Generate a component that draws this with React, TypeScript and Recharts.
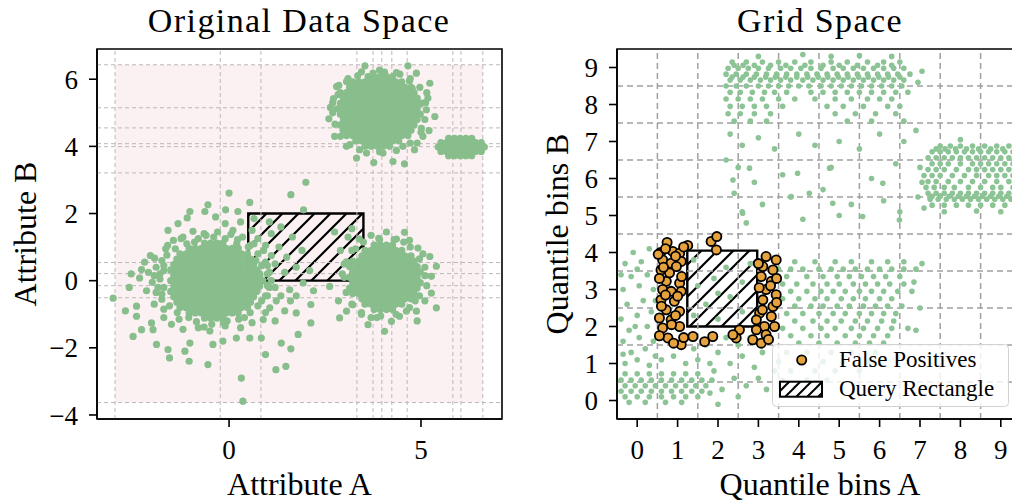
import { ReferenceArea, ReferenceLine, Scatter, ScatterChart, XAxis, YAxis } from 'recharts';

const FONT = '"Liberation Serif", "Times New Roman", serif';

type Pt = [number, number];
type Row = [number, number[]]; // [y, list of x]

const fromRows = (rows: Row[]): Pt[] => rows.flatMap(([y, xs]) => xs.map((x) => [x, y] as Pt));
const toXY = (pts: Pt[]) => pts.map(([x, y]) => ({ x, y }));
const minus = (v: number) => (v < 0 ? `\u2212${Math.abs(v)}` : `${v}`);

// ---------- Original data space ----------
const LEFT_X_DOMAIN: [number, number] = [-3.44, 7.11];
const LEFT_Y_DOMAIN: [number, number] = [-4.12, 6.9];
const LEFT_X_TICKS = [0, 5];
const LEFT_Y_TICKS = [-4, -2, 0, 2, 4, 6];
// quantile bin edges drawn as dashed lines
const EDGES_A = [-2.97, -0.23, 0.83, 3.33, 3.75, 3.98, 4.24, 4.64, 5.83, 6.04, 6.61];
const EDGES_B = [-3.63, -0.51, -0.15, 0.21, 0.54, 3.21, 3.99, 4.08, 4.55, 5.15, 6.43];
const QUERY_ORIG = { x1: 0.5, x2: 3.5, y1: 0, y2: 2 };

const upperBlobCore: Row[] = [
  [6.08, [3.62, 3.78, 3.94, 4.1, 4.26]],
  [5.92, [3.22, 3.38, 3.54, 3.7, 3.86, 4.02, 4.18, 4.34, 4.5]],
  [5.76, [3.14, 3.3, 3.46, 3.62, 3.78, 3.94, 4.1, 4.26, 4.42, 4.58, 4.74]],
  [5.6, [2.9, 3.06, 3.22, 3.38, 3.54, 3.7, 3.86, 4.02, 4.18, 4.34, 4.5, 4.66, 4.82]],
  [5.44, [2.98, 3.14, 3.3, 3.46, 3.62, 3.78, 3.94, 4.1, 4.26, 4.42, 4.58, 4.74, 4.9]],
  [5.28, [2.9, 3.06, 3.22, 3.38, 3.54, 3.7, 3.86, 4.02, 4.18, 4.34, 4.5, 4.66, 4.82, 4.98]],
  [5.12, [2.82, 2.98, 3.14, 3.3, 3.46, 3.62, 3.78, 3.94, 4.1, 4.26, 4.42, 4.58, 4.74, 4.9]],
  [4.96, [2.9, 3.06, 3.22, 3.38, 3.54, 3.7, 3.86, 4.02, 4.18, 4.34, 4.5, 4.66, 4.82, 4.98]],
  [4.8, [2.98, 3.14, 3.3, 3.46, 3.62, 3.78, 3.94, 4.1, 4.26, 4.42, 4.58, 4.74, 4.9]],
  [4.64, [2.9, 3.06, 3.22, 3.38, 3.54, 3.7, 3.86, 4.02, 4.18, 4.34, 4.5, 4.66, 4.82]],
  [4.48, [2.98, 3.14, 3.3, 3.46, 3.62, 3.78, 3.94, 4.1, 4.26, 4.42, 4.58, 4.74]],
  [4.32, [3.06, 3.22, 3.38, 3.54, 3.7, 3.86, 4.02, 4.18, 4.34, 4.5, 4.66]],
  [4.16, [3.3, 3.46, 3.62, 3.78, 3.94, 4.1, 4.26, 4.42]],
  [4.0, [3.54, 3.7, 3.86, 4.02, 4.18]],
];
const upperBlobEdge: Pt[] = [
  [3.54, 6.4], [4.66, 6.4], [4.05, 6.21], [3.75, 6.18], [3.06, 5.93], [2.8, 5.78], [2.84, 5.54],
  [5.23, 5.88], [4.77, 5.73], [5.18, 5.44], [5.03, 5.29], [5.36, 4.89], [5.14, 5.09], [2.6, 4.82],
  [2.97, 4.49], [2.75, 4.3], [5.01, 4.54], [5.21, 4.47], [5.05, 4.3], [4.83, 3.9], [3.06, 4.0],
  [3.32, 3.65], [3.77, 3.52], [4.27, 3.55], [4.57, 3.48], [3.58, 3.8], [4.01, 3.8], [4.53, 4.0],
  [4.88, 6.18], [4.45, 6.15], [2.7, 5.3], [5.15, 5.6], [4.7, 5.95], [3.35, 6.1], [4.9, 4.1],
  [2.7, 5.0], [2.72, 5.42], [2.76, 4.66], [2.86, 5.82], [2.9, 4.3], [3.1, 6.02], [3.15, 4.05],
  [3.45, 6.22], [3.4, 3.9], [3.92, 6.27], [3.92, 3.84], [4.36, 6.2], [4.36, 3.88], [4.72, 6.02],
  [4.72, 4.1], [4.97, 5.76], [5.0, 4.42], [5.12, 5.3], [5.1, 4.8], [2.64, 5.16],
];
const smallBlob: Row[] = [
  [4.24, [5.72, 5.87, 6.02, 6.17, 6.32]],
  [4.11, [5.52, 5.67, 5.82, 5.97, 6.12, 6.27, 6.42, 6.57]],
  [3.98, [5.45, 5.6, 5.75, 5.9, 6.05, 6.2, 6.35, 6.5, 6.65]],
  [3.85, [5.52, 5.67, 5.82, 5.97, 6.12, 6.27, 6.42, 6.57]],
  [3.72, [5.72, 5.87, 6.02, 6.17, 6.32]],
];
const lowerLeftCore: Row[] = [
  [1.12, [-0.64, -0.48, -0.32, -0.16]],
  [0.96, [-1.04, -0.88, -0.72, -0.56, -0.4, -0.24, -0.08, 0.08, 0.24]],
  [0.8, [-1.28, -1.12, -0.96, -0.8, -0.64, -0.48, -0.32, -0.16, 0.0, 0.16, 0.32, 0.48]],
  [0.64, [-1.36, -1.2, -1.04, -0.88, -0.72, -0.56, -0.4, -0.24, -0.08, 0.08, 0.24, 0.4, 0.56]],
  [0.48, [-1.44, -1.28, -1.12, -0.96, -0.8, -0.64, -0.48, -0.32, -0.16, 0.0, 0.16, 0.32, 0.48, 0.64]],
  [0.32, [-1.52, -1.36, -1.2, -1.04, -0.88, -0.72, -0.56, -0.4, -0.24, -0.08, 0.08, 0.24, 0.4, 0.56, 0.72]],
  [0.16, [-1.44, -1.28, -1.12, -0.96, -0.8, -0.64, -0.48, -0.32, -0.16, 0.0, 0.16, 0.32, 0.48, 0.64, 0.8]],
  [0.0, [-1.52, -1.36, -1.2, -1.04, -0.88, -0.72, -0.56, -0.4, -0.24, -0.08, 0.08, 0.24, 0.4, 0.56, 0.72, 0.88]],
  [-0.16, [-1.44, -1.28, -1.12, -0.96, -0.8, -0.64, -0.48, -0.32, -0.16, 0.0, 0.16, 0.32, 0.48, 0.64, 0.8]],
  [-0.32, [-1.52, -1.36, -1.2, -1.04, -0.88, -0.72, -0.56, -0.4, -0.24, -0.08, 0.08, 0.24, 0.4, 0.56, 0.72]],
  [-0.48, [-1.44, -1.28, -1.12, -0.96, -0.8, -0.64, -0.48, -0.32, -0.16, 0.0, 0.16, 0.32, 0.48, 0.64]],
  [-0.64, [-1.36, -1.2, -1.04, -0.88, -0.72, -0.56, -0.4, -0.24, -0.08, 0.08, 0.24, 0.4, 0.56]],
  [-0.8, [-1.28, -1.12, -0.96, -0.8, -0.64, -0.48, -0.32, -0.16, 0.0, 0.16, 0.32, 0.48]],
  [-0.96, [-1.04, -0.88, -0.72, -0.56, -0.4, -0.24, -0.08, 0.08, 0.24]],
  [-1.12, [-0.64, -0.48, -0.32, -0.16]],
];
const lowerLeftEdge: Pt[] = [
  [-1.59, 1.5], [-1.33, 1.7], [-1.09, 1.87], [-1.02, 2.06], [-0.55, 2.26], [-0.63, 2.06], [0, 2.61],
  [-0.09, 2.11], [0.54, 2.33], [0.23, 2.06], [1.61, 2.56], [2.0, 2.93], [1.94, 2.11], [-0.94, 1.47],
  [-0.3, 1.45], [0.1, 1.5], [0.35, 1.3], [-0.1, 1.7], [0.3, 1.75], [-1.2, 1.3], [0.55, 1.05],
  [-0.65, 1.4], [-1.45, 1.2], [-0.35, 1.9], [-3.02, -0.52], [-2.28, 0.33], [-2.33, 0.08],
  [-2.5, -1.66], [-2.28, -1.46], [-2.41, -0.76], [-2.41, -1.06], [-1.94, 0.67], [-2.15, -0.3],
  [-2.2, 0.55], [-2.02, -1.26], [-1.98, -1.46], [-1.89, -1.9], [-1.59, -2.05], [-1.55, -2.3],
  [-1.15, -2.1], [-1.04, -2.4], [-1.02, -1.86], [-0.55, -2.5], [-0.42, -1.9], [-0.16, -1.8],
  [0.32, -2.9], [0.36, -3.59], [0.19, -1.71], [0.54, -1.71], [0.84, -1.71], [0.95, -2.2],
  [1.22, -2.65], [1.48, -2.55], [1.36, -1.86], [1.61, -2.03], [1.8, -1.6], [-1.5, -1.3],
  [-1.2, -1.45], [-0.8, -1.4], [-0.5, -1.5], [-0.1, -1.35], [0.3, -1.4], [0.6, -1.25],
  [-1.7, -1.1], [-2.6, -0.2], [-2.55, 0.2], [-2.7, -0.9], [-1.75, 0.6], [-1.8, 0.2], [-1.85, -0.2],
  [-1.75, -0.55], [-1.9, 0.4], [-2.0, -0.05], [-1.7, -0.85], [-1.65, 0.95], [-2.1, 0.25],
  [-1.95, -0.7], [-2.05, 0.75], [-1.7, -0.2], [-1.7, 0.3], [-0.9, 1.15], [0.2, 1.1], [-1.3, -1.15],
  [0.4, -1.1], [-0.05, -1.2],
  [-1.7, 0.45], [-1.75, -0.4], [-1.8, 0.05], [-1.62, 0.76], [-1.55, -0.75], [-1.4, 0.95],
  [-1.35, -0.95], [-1.1, 1.1], [-1.05, -1.1], [-0.8, 1.25], [-0.85, -1.22], [-0.4, 1.3],
  [-0.45, -1.3], [-0.1, 1.25], [-0.15, -1.25], [0.22, 1.22], [0.25, -1.15], [0.5, 1.0],
  [0.55, -0.95], [0.75, 0.8], [0.75, -0.75], [0.95, 0.55], [0.95, -0.45], [1.0, 0.2], [1.05, -0.2],
  [-1.6, 1.05], [-1.95, 0.15], [-1.9, -0.35], [0.05, 1.38], [-0.6, 1.35], [-0.65, -1.38],
  [0.65, 1.1], [-1.25, 1.25], [1.0, 0.45],
];
const lowerLeftTail: Pt[] = [
  [0.6, 1.5], [0.75, 1.25], [0.9, 0.9], [1.1, 1.4], [1.3, 1.0], [1.5, 0.7], [1.2, 0.5], [1.05, 0.25],
  [0.7, 0.6], [1.45, 0.25], [1.75, 0.4], [1.9, 0.9], [0.65, 1.85], [1.05, 1.75], [1.1, 0.0],
  [1.65, 1.3], [2.1, 0.3], [1.2, -0.2], [1.35, -0.45], [1.06, -0.81], [1.23, -0.6], [1.58, -0.27],
  [1.93, -0.07], [1.75, -0.45], [0.89, -1.16], [1.75, -0.96], [2.13, -0.71], [2.13, -1.26],
  [2.2, -0.3], [1.45, -0.9], [1.0, -0.45], [1.2, -1.2], [0.95, -0.95], [1.1, 0.75], [1.35, 1.6],
  [0.85, 0.45], [1.6, -0.6], [0.95, 1.05], [0.8, 0.2], [1.0, -0.15], [0.85, -0.6],
];
const lowerRightCore: Row[] = [
  [1.06, [3.78, 3.94, 4.1, 4.26]],
  [0.9, [3.54, 3.7, 3.86, 4.02, 4.18, 4.34, 4.5]],
  [0.74, [3.46, 3.62, 3.78, 3.94, 4.1, 4.26, 4.42, 4.58, 4.74]],
  [0.58, [3.22, 3.38, 3.54, 3.7, 3.86, 4.02, 4.18, 4.34, 4.5, 4.66, 4.82]],
  [0.42, [3.14, 3.3, 3.46, 3.62, 3.78, 3.94, 4.1, 4.26, 4.42, 4.58, 4.74, 4.9]],
  [0.26, [3.22, 3.38, 3.54, 3.7, 3.86, 4.02, 4.18, 4.34, 4.5, 4.66, 4.82, 4.98]],
  [0.1, [3.14, 3.3, 3.46, 3.62, 3.78, 3.94, 4.1, 4.26, 4.42, 4.58, 4.74, 4.9]],
  [-0.06, [3.22, 3.38, 3.54, 3.7, 3.86, 4.02, 4.18, 4.34, 4.5, 4.66, 4.82, 4.98]],
  [-0.22, [3.14, 3.3, 3.46, 3.62, 3.78, 3.94, 4.1, 4.26, 4.42, 4.58, 4.74, 4.9]],
  [-0.38, [3.22, 3.38, 3.54, 3.7, 3.86, 4.02, 4.18, 4.34, 4.5, 4.66, 4.82]],
  [-0.54, [3.46, 3.62, 3.78, 3.94, 4.1, 4.26, 4.42, 4.58, 4.74]],
  [-0.7, [3.54, 3.7, 3.86, 4.02, 4.18, 4.34, 4.5]],
  [-0.86, [3.78, 3.94, 4.1, 4.26]],
];
const lowerRightEdge: Pt[] = [
  [4.57, 1.44], [4.36, 1.24], [3.92, 1.22], [3.39, 1.24], [4.92, 0.97], [5.23, 0.72], [5.4, 0.43],
  [5.27, 0.13], [5.4, -0.81], [5.27, -0.37], [4.88, -0.91], [4.62, -0.91], [4.05, -1.51],
  [3.62, -1.31], [2.88, -1.11], [3.06, -0.91], [2.62, -0.17], [4.23, -1.21], [4.44, -1.06],
  [3.0, 0.5], [2.9, 0.9], [3.1, 1.3], [2.75, 1.45], [3.2, 1.55], [2.95, 0.2], [3.05, -0.35],
  [5.1, 0.4], [5.15, -0.15], [3.85, -1.1], [3.45, -1.0], [4.7, 1.2], [5.05, 0.8], [4.1, 1.45],
  [3.7, 1.35], [2.85, -0.6], [3.2, -0.7], [5.1, -0.6], [4.9, -1.2], [3.3, 0.95], [4.85, -0.6],
  [3.0, 0.1], [3.06, 0.56], [3.2, 0.9], [3.22, -0.72], [3.5, 1.15], [3.45, -0.95], [3.9, 1.26],
  [3.95, -1.05], [4.3, 1.22], [4.35, -1.0], [4.72, 1.0], [4.7, -0.8], [4.96, 0.65], [4.96, -0.45],
  [5.1, 0.15], [4.55, 1.15], [3.7, -1.1],
];

const originalPoints = toXY([
  ...fromRows(upperBlobCore), ...upperBlobEdge, ...fromRows(smallBlob),
  ...fromRows(lowerLeftCore), ...lowerLeftEdge, ...lowerLeftTail,
  ...fromRows(lowerRightCore), ...lowerRightEdge,
]);

// ---------- Grid space ----------
const GRID_DOMAIN: [number, number] = [-0.5, 9.5];
const BIN_TICKS = [0, 1, 2, 3, 4, 5, 6, 7, 8, 9];
const BIN_EDGES = [0.5, 1.5, 2.5, 3.5, 4.5, 5.5, 6.5, 7.5, 8.5];
const QUERY_GRID = { x1: 1.24, x2: 2.97, y1: 2.0, y2: 4.05 };

const topBand: Row[] = [
  [9.15, [2.35, 2.7, 3.1, 3.5, 3.9, 4.3, 4.8, 5.2, 5.7, 6.1, 6.5]],
  [9.06, [2.4, 2.62, 2.9, 3.3, 3.68, 4.15, 4.6, 5.0, 5.45, 5.95, 6.3]],
  [8.98, [2.25, 2.5, 2.75, 3.0, 3.25, 3.55, 3.8, 4.05, 4.3, 4.55, 4.85, 5.1, 5.35, 5.6, 5.85, 6.1, 6.35, 6.6]],
  [8.82, [2.2, 2.45, 2.7, 2.95, 3.2, 3.45, 3.7, 3.95, 4.2, 4.45, 4.7, 4.95, 5.2, 5.45, 5.7, 5.95, 6.2, 6.45, 6.75]],
  [8.74, [2.35, 2.62, 2.9, 3.18, 3.42, 3.68, 3.95, 4.22, 4.48, 4.72, 4.98, 5.22, 5.48, 5.72, 5.98, 6.22, 6.5]],
  [8.66, [2.3, 2.55, 2.8, 3.05, 3.3, 3.55, 3.8, 4.1, 4.35, 4.6, 4.85, 5.1, 5.35, 5.6, 5.85, 6.1, 6.35, 6.6]],
  [8.5, [2.2, 2.45, 2.7, 3.0, 3.25, 3.5, 3.75, 4.0, 4.25, 4.55, 4.8, 5.05, 5.3, 5.55, 5.8, 6.05, 6.3, 6.55]],
  [8.33, [2.3, 2.55, 2.85, 3.15, 3.4, 3.7, 4.3, 4.6, 4.9, 5.2, 5.5, 5.8, 6.1, 6.4, 6.7]],
  [8.15, [2.2, 2.5, 2.8, 3.1, 3.5, 3.9, 4.4, 4.9, 5.3, 5.7, 6.0, 6.3]],
  [7.95, [2.3, 2.6, 2.9, 3.2, 3.6, 4.7, 5.1, 5.6, 6.2, 6.5]],
  [7.75, [2.25, 2.55, 2.9, 3.3, 4.9, 5.4, 5.9, 6.4]],
  [7.55, [2.4, 2.8, 3.2, 5.2, 5.8, 6.6]],
];
const topBandLoose: Pt[] = [
  [2.3, 7.2], [2.6, 6.9], [2.2, 6.5], [3.0, 7.1], [3.4, 6.8], [4.0, 7.2], [4.4, 6.9], [5.0, 7.0],
  [5.5, 6.8], [6.0, 7.2], [6.6, 7.0], [6.9, 7.3], [2.5, 6.3], [2.9, 5.9], [3.6, 6.1], [4.8, 6.3],
  [5.8, 6.0], [6.4, 6.4], [2.4, 5.6], [2.6, 5.1], [3.1, 5.3], [3.8, 5.5], [4.6, 5.7], [5.3, 5.3],
  [6.1, 5.4], [6.5, 5.1], [2.7, 4.8], [4.1, 4.9], [5.0, 5.0], [6.95, 8.6], [7.05, 8.9],
  [3.0, 9.3], [4.1, 9.35], [4.8, 9.3], [5.5, 9.32], [6.3, 9.3], [6.08, 5.87], [4.76, 6.28],
  [3.97, 6.14], [2.37, 5.96], [2.78, 6.28], [2.61, 5.06], [5.58, 4.97], [6.49, 4.88], [3.81, 5.51],
  [4.26, 5.6], [4.84, 5.33],
];
const rightBlock: Row[] = [
  [6.88, [7.5, 7.75, 8.0, 8.3, 8.6, 8.9, 9.2]],
  [6.8, [7.4, 7.62, 7.88, 8.15, 8.45, 8.75, 9.05, 9.35]],
  [6.72, [7.3, 7.5, 7.7, 7.9, 8.1, 8.3, 8.5, 8.7, 8.9, 9.1, 9.3]],
  [6.56, [7.2, 7.4, 7.6, 7.8, 8.0, 8.2, 8.4, 8.6, 8.8, 9.0, 9.2, 9.4]],
  [6.4, [7.3, 7.5, 7.7, 8.0, 8.3, 8.5, 8.7, 8.9, 9.1, 9.3]],
  [6.24, [7.2, 7.4, 7.6, 7.9, 8.2, 8.4, 8.6, 8.8, 9.0, 9.2, 9.4]],
  [6.08, [7.1, 7.3, 7.5, 7.8, 8.1, 8.4, 8.7, 8.9, 9.1, 9.3]],
  [5.92, [7.2, 7.4, 7.7, 8.0, 8.3, 8.6, 8.9, 9.2, 9.4]],
  [5.76, [7.15, 7.35, 7.6, 7.85, 8.2, 8.5, 8.8, 9.0, 9.3]],
  [5.6, [7.2, 7.4, 7.6, 7.8, 8.0, 8.2, 8.4, 8.6, 8.8, 9.0, 9.2, 9.4]],
  [5.52, [7.3, 7.5, 7.72, 7.95, 8.15, 8.35, 8.55, 8.75, 8.95, 9.15, 9.35]],
  [5.44, [7.25, 7.45, 7.65, 7.85, 8.05, 8.25, 8.45, 8.65, 8.85, 9.05, 9.25, 9.45]],
  [5.28, [7.3, 7.6, 7.9, 8.2, 8.5, 8.8, 9.1, 9.4]],
];
const rightBlockLoose: Pt[] = [
  [7.0, 6.3], [7.05, 5.9], [6.95, 5.5], [7.1, 5.2], [8.0, 7.05], [8.4, 5.12], [7.6, 5.1], [9.0, 5.1],
];
const bottomLeftBand: Row[] = [
  [0.72, [-0.3, 0.0, 0.3, 0.6, 0.9, 1.2, 1.5]],
  [0.55, [-0.4, -0.15, 0.1, 0.35, 0.6, 0.85, 1.1, 1.35, 1.6, 1.85]],
  [0.4, [-0.3, -0.05, 0.2, 0.45, 0.7, 0.95, 1.2, 1.45, 1.7]],
  [0.25, [-0.4, -0.15, 0.1, 0.35, 0.6, 0.85, 1.1, 1.35, 1.6]],
  [0.1, [-0.3, 0.0, 0.3, 0.6, 0.9, 1.2, 1.5]],
  [-0.05, [-0.2, 0.2, 0.7, 1.1]],
];
const bottomLeftLoose: Pt[] = [
  [-0.3, 1.0], [0.0, 1.1], [0.3, 0.95], [-0.15, 1.3], [0.2, 1.4], [-0.35, 1.6], [0.05, 1.7],
  [0.4, 1.6], [-0.2, 1.9], [0.25, 2.0], [-0.4, 2.2], [0.0, 2.3], [0.35, 2.4], [-0.25, 2.6],
  [0.15, 2.7], [-0.35, 3.0], [0.05, 3.1], [0.4, 3.0], [-0.15, 3.35], [0.25, 3.4], [-0.3, 3.7],
  [0.1, 3.75], [-0.1, 4.0], [0.3, 4.1], [-0.35, 1.25], [0.45, 1.2], [-0.05, 2.0], [0.45, 2.7],
  [-0.4, 3.4], [0.0, 3.55], [0.6, 1.1], [0.9, 1.2], [1.2, 1.0], [1.5, 1.1], [1.8, 1.0], [1.4, 1.4],
  [1.7, 1.5], [2.0, 1.3], [2.3, 1.0], [2.6, 1.2], [2.9, 0.9], [2.2, 1.7], [2.5, 1.5], [2.8, 1.7],
  [1.9, 0.8], [2.4, 0.6], [2.7, 0.4], [3.0, 0.6], [2.1, 0.3], [1.8, 0.2], [2.5, 0.1], [3.2, 0.3],
  [3.4, 0.8], [3.1, 1.3], [2.0, -0.1], [1.4, 2.3], [1.7, 2.6], [2.0, 2.2], [2.3, 2.8], [2.6, 2.4],
  [1.5, 3.1], [1.9, 3.3], [2.2, 3.6], [2.6, 3.2], [2.8, 3.7], [1.4, 3.8], [2.0, 2.9],
];
const bottomMiddle: Row[] = [
  [3.75, [3.9, 4.4, 4.9, 5.3, 5.8, 6.2, 6.6]],
  [3.55, [3.5, 3.8, 4.1, 4.5, 4.8, 5.1, 5.4, 5.7, 6.0, 6.3, 6.6, 6.9]],
  [3.35, [3.7, 4.2, 4.6, 4.95, 5.25, 5.55, 5.85, 6.15, 6.5]],
  [3.15, [3.6, 3.95, 4.35, 4.7, 5.0, 5.35, 5.65, 5.95, 6.25, 6.6]],
  [2.95, [3.8, 4.2, 4.55, 4.85, 5.15, 5.5, 5.8, 6.1, 6.45, 6.8]],
  [2.75, [3.6, 4.0, 4.4, 4.7, 5.05, 5.35, 5.65, 6.0, 6.3]],
  [2.55, [3.9, 4.3, 4.6, 4.95, 5.25, 5.6, 5.9, 6.2, 6.55]],
  [2.35, [3.7, 4.1, 4.5, 4.85, 5.15, 5.5, 5.8, 6.1, 6.4]],
  [2.15, [3.9, 4.35, 4.7, 5.05, 5.4, 5.7, 6.05, 6.35]],
  [1.95, [3.6, 4.1, 4.55, 4.9, 5.3, 5.6, 5.95, 6.3, 6.7]],
  [1.75, [3.8, 4.3, 4.7, 5.15, 5.5, 5.85, 6.2]],
  [1.55, [4.0, 4.5, 4.95, 5.4, 5.75, 6.1]],
  [1.3, [3.7, 4.2, 4.8, 5.3, 5.9]],
  [1.05, [3.5, 4.0, 4.6, 5.1, 5.7]],
  [0.8, [3.8, 4.4, 4.9, 5.5]],
  [0.55, [3.6, 4.2, 4.7]],
  [0.35, [3.9, 4.5]],
];
const bottomMiddleLoose: Pt[] = [[6.85, 3.2], [7.0, 2.5], [6.9, 1.9], [7.05, 3.7]];

const falsePositives: Pt[] = [
  [0.74, 4.27], [1.25, 4.19], [1.83, 4.3], [1.97, 4.43], [1.96, 4.07], [0.58, 4.0], [0.88, 4.03],
  [1.05, 3.98], [0.63, 3.8], [0.84, 3.71], [1.09, 3.76], [0.59, 3.53], [0.97, 3.62], [0.72, 3.22],
  [1.05, 3.17], [0.63, 3.0], [0.84, 2.95], [1.09, 2.95], [0.59, 2.72], [0.92, 2.68], [0.72, 2.45],
  [1.05, 2.41], [0.55, 2.23], [0.84, 2.18], [1.05, 2.0], [0.63, 1.96], [0.76, 1.69], [1.09, 1.51],
  [1.38, 1.73], [1.67, 1.59], [1.87, 1.73], [0.55, 3.3], [0.8, 3.45], [1.1, 3.35], [0.6, 2.55],
  [0.95, 2.3], [0.7, 2.85], [1.0, 2.82], [0.65, 3.6], [0.95, 3.9], [0.52, 3.95], [0.85, 2.05],
  [0.55, 1.75], [1.15, 1.7], [0.9, 1.55], [0.7, 4.1], [1.15, 4.15],
  [3.19, 3.89], [3.44, 3.8], [3.11, 3.62], [3.36, 3.53], [3.07, 3.35], [3.32, 3.22], [3.19, 3.0],
  [3.44, 2.86], [3.11, 2.72], [3.36, 2.54], [3.03, 2.36], [3.32, 2.27], [2.95, 2.18], [3.15, 2.0],
  [2.95, 1.91], [3.19, 1.78], [2.86, 1.64], [3.07, 1.55], [2.53, 1.91], [2.45, 1.69], [2.37, 1.78],
  [3.3, 3.1], [3.0, 3.7], [3.45, 3.3], [3.1, 2.45], [3.4, 2.0], [3.25, 1.65], [3.45, 2.65], [3.02, 3.05],
];

const gridPoints = toXY([
  ...fromRows(topBand), ...topBandLoose, ...fromRows(rightBlock), ...rightBlockLoose,
  ...fromRows(bottomLeftBand), ...bottomLeftLoose, ...fromRows(bottomMiddle), ...bottomMiddleLoose,
]);
const falsePositivePoints = toXY(falsePositives);

const dot = (r: number, fill: string, stroke = 'none', sw = 0) => (p: any) => (
  <circle cx={p.cx} cy={p.cy} r={r} fill={fill} stroke={stroke} strokeWidth={sw} />
);

const tickStyle = { fill: '#000', fontSize: 27, fontFamily: FONT };
const axisProps = {
  axisLine: { stroke: '#000', strokeWidth: 1.6 },
  tickLine: { stroke: '#000', strokeWidth: 1.6 },
  tickSize: 8,
  tick: tickStyle,
  interval: 0 as const,
};

function GridLegend() {
  return (
    <svg width={238} height={64} style={{ position: 'absolute', left: 772, top: 344 }}>
      <rect x={0.5} y={0.5} width={236} height={62} rx={4} fill="#fff" fillOpacity={0.82} stroke="#d2d2d2" />
      <circle cx={29.7} cy={16} r={4.6} fill="#e6a23c" stroke="#000" strokeWidth={1.8} />
      <text x={67} y={22.7} fontFamily={FONT} fontSize={23} fill="#000">False Positives</text>
      <rect x={8} y={37.7} width={42} height={15} fill="url(#hatchSmall)" stroke="#000" strokeWidth={2} />
      <text x={67} y={52} fontFamily={FONT} fontSize={23} fill="#000">Query Rectangle</text>
    </svg>
  );
}

export default function App() {
  return (
    <div style={{ position: 'absolute', left: 0, top: 0, width: 1012, height: 502, overflow: 'hidden', background: '#fff' }}>
      <svg width={0} height={0} style={{ position: 'absolute' }}>
        <defs>
          <pattern id="hatch" patternUnits="userSpaceOnUse" width={16} height={16}>
            <path d="M0,16 L16,0 M-4,4 L4,-4 M12,20 L20,12" stroke="#000" strokeWidth={2.2} />
          </pattern>
          <pattern id="hatchSmall" patternUnits="userSpaceOnUse" width={11} height={11}>
            <path d="M0,11 L11,0 M-3,3 L3,-3 M8,14 L14,8" stroke="#000" strokeWidth={2} />
          </pattern>
        </defs>
      </svg>

      <div style={{ position: 'absolute', left: 0, top: 0 }}>
        <ScatterChart width={520} height={502} margin={{ top: 49, right: 18, bottom: 0, left: 0 }}>
          <XAxis type="number" dataKey="x" domain={LEFT_X_DOMAIN} ticks={LEFT_X_TICKS} allowDataOverflow height={83} tickMargin={13} {...axisProps} />
          <YAxis type="number" dataKey="y" domain={LEFT_Y_DOMAIN} ticks={LEFT_Y_TICKS} allowDataOverflow width={97} tickMargin={11} tickFormatter={minus} {...axisProps} />
          <ReferenceArea x1={EDGES_A[0]} x2={EDGES_A[EDGES_A.length - 1]} y1={EDGES_B[0]} y2={EDGES_B[EDGES_B.length - 1]} fill="#fbf1f2" fillOpacity={1} stroke="none" />
          {EDGES_A.map((v) => (
            <ReferenceLine key={`a${v}`} x={v} stroke="#bdb8b8" strokeWidth={1} strokeDasharray="4 3" />
          ))}
          {EDGES_B.map((v) => (
            <ReferenceLine key={`b${v}`} y={v} stroke="#bdb8b8" strokeWidth={1} strokeDasharray="4 3" />
          ))}
          <Scatter data={originalPoints} fill="#88bd8c" shape={dot(3.6, '#88bd8c')} isAnimationActive={false} />
          <ReferenceArea {...QUERY_ORIG} fill="url(#hatch)" fillOpacity={1} stroke="#000" strokeWidth={2.4} />
          <ReferenceArea x1={LEFT_X_DOMAIN[0]} x2={LEFT_X_DOMAIN[1]} y1={LEFT_Y_DOMAIN[0]} y2={LEFT_Y_DOMAIN[1]} fill="none" stroke="#000" strokeWidth={1.6} />
        </ScatterChart>
      </div>

      <div style={{ position: 'absolute', left: 520, top: 0 }}>
        <ScatterChart width={520} height={502} margin={{ top: 49, right: 19, bottom: 0, left: 0 }}>
          <XAxis type="number" dataKey="x" domain={GRID_DOMAIN} ticks={BIN_TICKS} allowDataOverflow height={83} tickMargin={13} {...axisProps} />
          <YAxis type="number" dataKey="y" domain={GRID_DOMAIN} ticks={BIN_TICKS} allowDataOverflow width={97} tickMargin={11} {...axisProps} />
          {BIN_EDGES.map((v) => (
            <ReferenceLine key={`gx${v}`} x={v} stroke="#a0a0a0" strokeWidth={1.5} strokeDasharray="6 4" />
          ))}
          {BIN_EDGES.map((v) => (
            <ReferenceLine key={`gy${v}`} y={v} stroke="#a0a0a0" strokeWidth={1.5} strokeDasharray="6 4" />
          ))}
          <Scatter data={gridPoints} fill="#8cc495" shape={dot(2.8, '#8cc495')} isAnimationActive={false} />
          <ReferenceArea {...QUERY_GRID} fill="url(#hatch)" fillOpacity={1} stroke="#000" strokeWidth={2.4} />
          <Scatter name="False Positives" data={falsePositivePoints} fill="#e6a23c" shape={dot(4.6, '#e6a23c', '#000', 1.8)} isAnimationActive={false} />
          <ReferenceArea x1={GRID_DOMAIN[0]} x2={GRID_DOMAIN[1]} y1={GRID_DOMAIN[0]} y2={GRID_DOMAIN[1]} fill="none" stroke="#000" strokeWidth={1.6} />
        </ScatterChart>
      </div>

      <GridLegend />

      <svg width={1012} height={502} style={{ position: 'absolute', left: 0, top: 0, pointerEvents: 'none' }} fontFamily={FONT} fill="#000">
        <text x={299} y={31.5} fontSize={34} letterSpacing={1.4} textAnchor="middle">Original Data Space</text>
        <text x={820} y={31.5} fontSize={34} letterSpacing={1.4} textAnchor="middle">Grid Space</text>
        <text x={299.5} y={495} fontSize={32} textAnchor="middle">Attribute A</text>
        <text x={820} y={495} fontSize={32} textAnchor="middle">Quantile bins A</text>
        <text transform="translate(36,234) rotate(-90)" fontSize={32} textAnchor="middle">Attribute B</text>
        <text transform="translate(568,234) rotate(-90)" fontSize={32} textAnchor="middle">Quantile bins B</text>
      </svg>
    </div>
  );
}
